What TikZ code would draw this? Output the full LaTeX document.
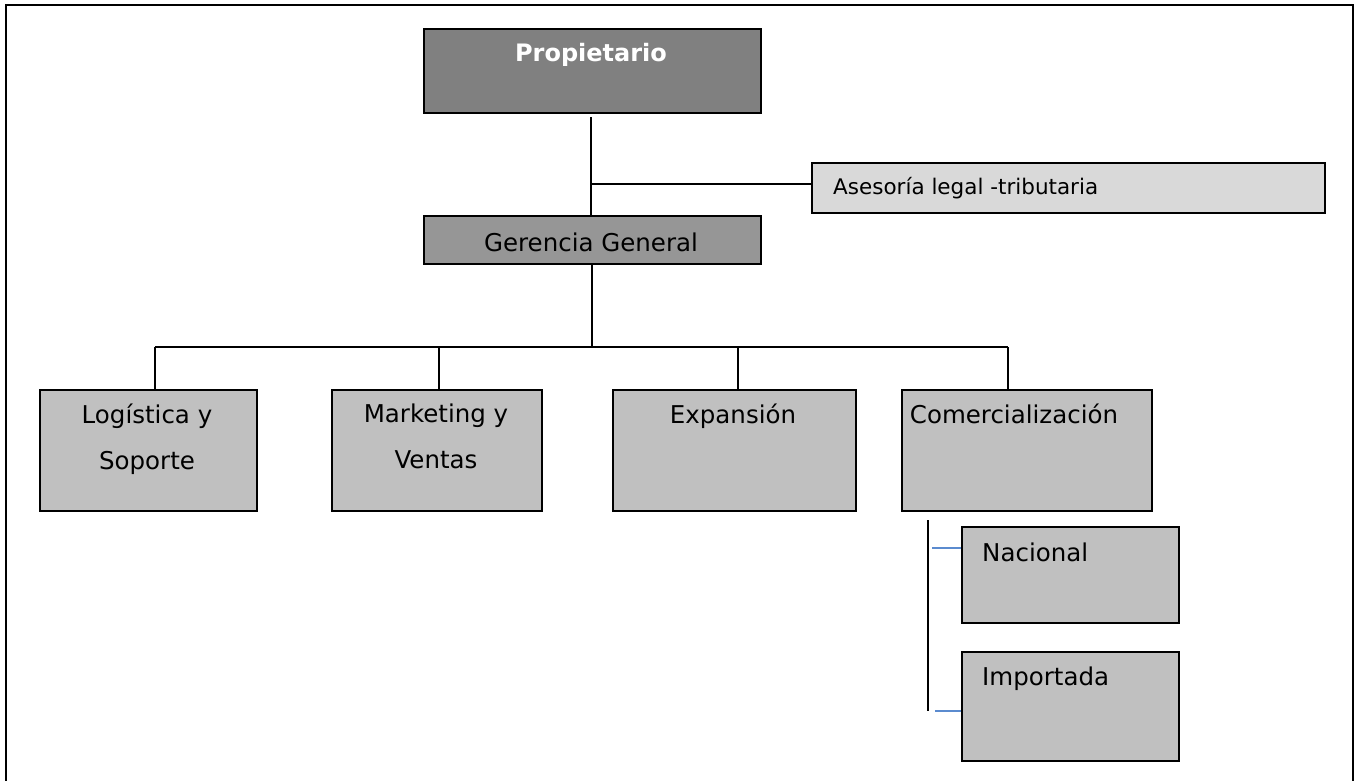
\documentclass[tikz,border=0pt]{standalone}
\usepackage{fontspec}
\setmainfont{DejaVu Sans}
\definecolor{propfill}{HTML}{808080}
\definecolor{gerfill}{HTML}{969696}
\definecolor{unitfill}{HTML}{C0C0C0}
\definecolor{asefill}{HTML}{D9D9D9}
\definecolor{tick}{HTML}{5B8BCF}
\tikzset{
  box/.style={draw=black, line width=2.2pt, rectangle, inner sep=0pt, anchor=north west},
  conn/.style={draw=black, line width=1.7pt},
  bluetick/.style={draw=tick, line width=1.5pt},
  txt/.style={inner sep=0pt, align=center, font=\fontsize{24.5}{46}\selectfont},
}
\begin{document}
\begin{tikzpicture}[x=1pt,y=-1pt]
\useasboundingbox (0,0) rectangle (1360,780);
\fill[white] (0,0) rectangle (1360,780);
% frame
\draw[line width=2pt] (6,790) -- (6,5) -- (1353,5) -- (1353,790);
% boxes
\node[box, fill=propfill, minimum width=337pt, minimum height=84pt] (prop) at (423,28) {};
\node[box, fill=asefill, minimum width=513pt, minimum height=50pt] (ase) at (811,162) {};
\node[box, fill=gerfill, minimum width=337pt, minimum height=48pt] (ger) at (423,215) {};
\node[box, fill=unitfill, minimum width=217pt, minimum height=121pt] (log) at (39,389) {};
\node[box, fill=unitfill, minimum width=210pt, minimum height=121pt] (mkt) at (331,389) {};
\node[box, fill=unitfill, minimum width=243pt, minimum height=121pt] (exp) at (612,389) {};
\node[box, fill=unitfill, minimum width=250pt, minimum height=121pt] (com) at (901,389) {};
\node[box, fill=unitfill, minimum width=217pt, minimum height=96pt] (nac) at (961,526) {};
\node[box, fill=unitfill, minimum width=217pt, minimum height=109pt] (imp) at (961,651) {};
% texts
\node[txt, text=white, font=\fontsize{24}{28}\bfseries] (tprop) at (591,55) {Propietario};
\node[txt, anchor=west, font=\fontsize{21.5}{24}\selectfont] (tase) at (833,188) {Asesoría legal -tributaria};
\node[txt] (tger) at (591,242) {Gerencia General};
\node[txt, anchor=north] (tlog) at (147,404) {Logística y\\Soporte};
\node[txt, anchor=north] (tmkt) at (436,404) {Marketing y\\Ventas};
\node[txt, anchor=north] (texp) at (733,404) {Expansión};
\node[txt, anchor=north] (tcom) at (1014,404) {Comercialización};
\node[txt, anchor=west] (tnac) at (982,552) {Nacional};
\node[txt, anchor=west] (timp) at (982,679) {Importada};
% connectors
\coordinate (j1) at (591,184);
\coordinate (bus) at (592,347);
\coordinate (bl) at (155,347);
\coordinate (br) at (1008,347);
\draw[conn] (prop.south -| j1) ++(0,3) -- (ger.north -| j1);
\draw[conn] (j1) -- (j1 -| ase.west);
\draw[conn] (ger.south -| bus) -- (bus);
\draw[conn] (bl) -- (br);
\draw[conn] (bl) -- (bl |- log.north);
\draw[conn] (439,347) -- (439,389);
\draw[conn] (738,347) -- (738,389);
\draw[conn] (br) -- (br |- com.north);
\coordinate (vt) at (928,520);
\coordinate (vb) at (928,711);
\draw[conn] (vt) -- (vb);
\draw[bluetick] (932,548) -- (nac.west |- 0,548);
\draw[bluetick] (935,711) -- (imp.west |- 0,711);
\end{tikzpicture}
\end{document}
